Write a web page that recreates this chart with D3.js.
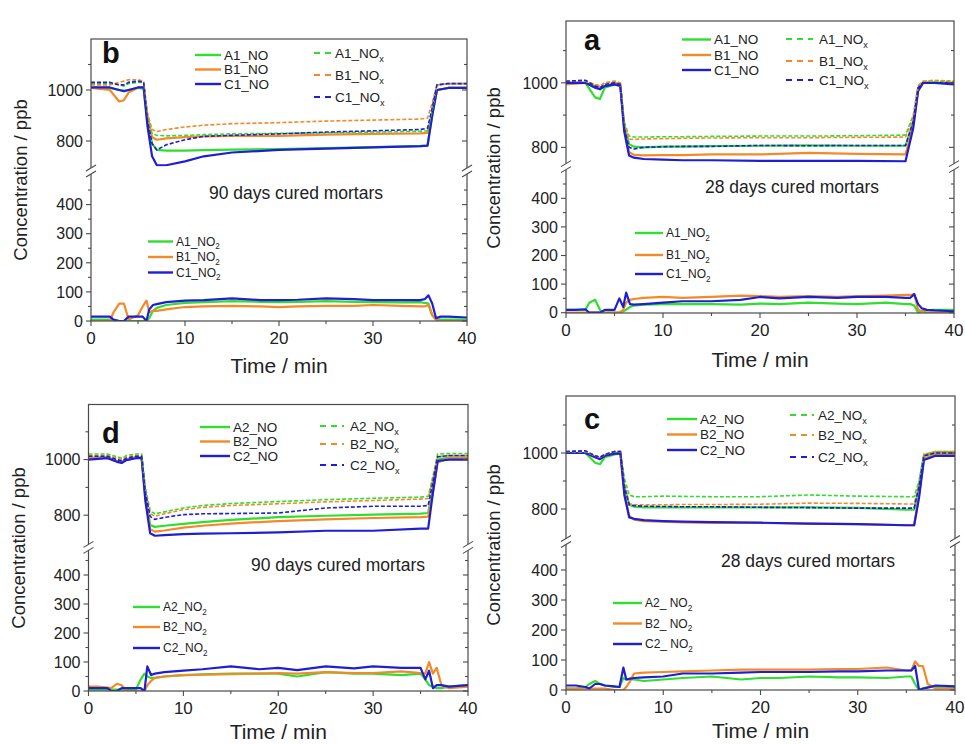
<!DOCTYPE html>
<html>
<head>
<meta charset="utf-8">
<script src="https://cdn.jsdelivr.net/npm/d3@7"></script>
<style>
  body { margin: 0; background: #fff; }
  svg { display: block; }
</style>
</head>
<body>
<svg id="chart" width="965" height="744"></svg>
<script>
// time grids (min)
const tUp = [0, 2, 3, 3.5, 4, 5, 5.6, 6, 6.5, 7, 8, 10, 12, 15, 20, 25, 30, 35, 35.8, 36.3, 36.8, 38, 40];
const tLow = [0, 1, 2, 2.4, 3, 3.5, 4, 5, 5.5, 5.9, 6.2, 6.6, 7, 8, 10, 12, 15, 18, 20, 22, 25, 28, 30, 33, 35, 35.5, 35.9, 36.3, 36.7, 37.2, 38, 40];

const names1 = ['A1', 'B1', 'C1'];
const names2 = ['A2', 'B2', 'C2'];
const xTicks = [0, 10, 20, 30, 40];
const upperTicks = [800, 1000];
const lowerTicks = [0, 100, 200, 300, 400];

// panel b - 90 days, mortars 1
const bNO = [
  [1008,1008,1000,998,1000, 1008,1005,880,790,765, 762,762,764,766,768, 772,776,780,782,900, 1000,1008,1008],
  [1008,1000,955,960,990, 1010,1010,900,815,805, 810,815,818,820,820, 825,828,830,832,910, 1000,1008,1008],
  [1010,1010,1000,995,1000, 1010,1010,860,740,705, 705,720,740,755,765, 770,775,780,782,900, 1000,1008,1008]
];
const bNOx = [
  [1025,1025,1020,1015,1025, 1030,1030,900,830,822, 820,822,825,828,830, 832,835,838,840,920, 1020,1025,1025],
  [1020,1020,1030,1035,1040, 1040,1035,910,845,837, 845,855,862,868,872, 878,882,886,890,950, 1020,1025,1025],
  [1030,1030,1020,1020,1030, 1035,1030,880,790,765, 785,805,818,822,828, 835,840,845,850,930, 1020,1025,1025]
];
const bNO2 = [
  [5,5,5,2,0, 0,0,0,0,0, 10,35,45,55,62, 65,68,66,65,66, 68,66,65,64,65, 62,60,20,5,5, 5,5],
  [0,0,0,30,60, 60,5,20,50,70, 30,35,35,40,48, 50,52,50,48,50, 52,52,55,52,50, 50,55,20,5,0, 0,0],
  [15,15,15,5,0, 0,15,15,15,0, 40,55,58,65,70, 72,78,72,72,73, 78,75,72,72,72, 75,88,60,10,15, 15,12]
];

// panel a - 28 days, mortars 1
const aNO = [
  [1000,1000,955,950,985, 995,990,870,810,802, 800,802,802,804,805, 806,805,805,880,980, 1000,1000,1000],
  [995,1000,990,985,990, 1000,995,860,785,777, 775,776,776,778,778, 783,780,778,870,975, 1000,1000,1000],
  [1000,1000,985,980,990, 995,990,850,775,768, 764,762,760,760,758, 758,758,757,860,975, 1000,1000,995]
];
const aNOx = [
  [1005,1005,995,990,1000, 1005,1000,880,835,832, 832,833,833,834,835, 835,836,838,900,990, 1005,1005,1005],
  [1005,1005,995,990,1000, 1005,1000,875,825,825, 826,827,828,829,830, 830,831,832,895,990, 1005,1008,1005],
  [1005,1008,990,985,995, 1000,995,860,800,795, 800,802,803,803,806, 805,806,806,880,985, 1000,1000,1000]
];
const aNO2 = [
  [10,10,10,35,45, 10,0,0,0,5, 10,20,25,28,30, 30,30,28,32,30, 35,32,30,35,30, 30,25,0,5,8, 10,10],
  [0,0,0,0,0, 0,0,0,0,10, 35,45,48,52,55, 52,55,60,58,55, 58,55,58,60,62, 62,65,10,5,0, 0,0],
  [10,10,12,0,0, 0,10,10,50,20, 70,30,28,30,35, 40,40,45,55,50, 55,52,55,55,52, 52,65,30,15,10, 8,5]
];

// panel d - 90 days, mortars 2
const dNO = [
  [1005,1008,995,992,1000, 1008,1008,870,765,758, 762,769,775,783,793, 798,802,806,808,900, 1000,1008,1008],
  [1005,1008,995,990,1000, 1008,1008,860,750,741, 745,755,762,770,779, 785,790,793,795,880, 990,1005,1005],
  [1000,1005,992,988,998, 1005,1005,850,735,726, 728,732,734,735,738, 744,744,752,752,880, 995,1000,1000]
];
const dNOx = [
  [1020,1020,1010,1005,1015, 1020,1020,900,815,805, 812,826,835,842,849, 856,861,865,868,940, 1020,1022,1022],
  [1015,1015,1005,1000,1010, 1015,1015,890,805,796, 805,820,828,835,841, 848,853,858,860,930, 1010,1015,1015],
  [1012,1012,1000,995,1005, 1012,1012,880,795,785, 792,802,805,806,808, 826,832,832,835,920, 1010,1015,1015]
];
const dNO2 = [
  [5,5,5,5,5, 5,5,5,40,60, 50,45,45,50,55, 57,60,60,60,50, 65,60,60,55,60, 40,20,15,10,10, 15,20],
  [15,15,12,10,25, 20,0,0,0,0, 20,35,45,50,55, 56,58,60,62,60, 65,62,62,68,62, 60,100,60,80,20, 10,15],
  [10,10,10,0,0, 10,10,10,10,0, 85,55,60,65,70, 75,85,75,80,72, 85,78,85,80,80, 40,70,10,20,20, 15,20]
];

// panel c - 28 days, mortars 2
const cNO = [
  [1000,1000,965,960,985, 995,998,880,815,808, 806,806,806,806,806, 806,804,798,798,880, 990,1000,1000],
  [1000,1000,985,980,990, 1000,1000,860,775,762, 757,755,752,750,750, 748,746,742,742,850, 980,995,995],
  [1000,1000,985,978,990, 998,998,850,770,765, 760,757,755,753,751, 748,746,742,742,840, 975,990,990]
];
const cNOx = [
  [1005,1005,990,985,995, 1005,1005,910,850,844, 844,846,845,844,844, 850,846,844,844,900, 995,1005,1005],
  [1005,1005,990,985,995, 1005,1005,890,820,815, 815,815,816,816,817, 821,820,818,818,890, 995,1005,1005],
  [1005,1008,990,985,995, 1005,1005,880,815,812, 810,809,808,808,806, 805,803,803,803,880, 990,1000,1000]
];
const cNO2 = [
  [5,5,10,20,30, 20,15,10,10,40, 35,35,35,30,35, 40,45,35,40,40, 45,42,42,40,45, 45,20,0,5,10, 10,8],
  [5,5,5,5,5, 5,5,0,0,0, 10,30,55,58,60, 62,65,68,68,68, 68,70,70,75,65, 65,95,80,80,20, 5,5],
  [15,15,10,5,20, 20,15,12,10,75, 35,38,40,42,45, 55,55,58,60,60, 60,62,62,65,65, 65,80,0,5,8, 15,12]
];

const colors = ['#2fde2f', '#f38a2a', '#1f1fd2'];
const font = '"Liberation Sans", Arial, sans-serif';

// layout of the four panels
const panels = [
  { letter: 'b', names: names1, caption: '90 days cured mortars', no: bNO, nox: bNOx, no2: bNO2, sep: '_',
    box: { l: 91, r: 467, t: 39, b: 321 }, up: { d: [700, 1200], r: [166.5, 39] }, lo: { d: [0, 500], r: [321, 175.5] },
    letterPos: [102, 63], capPos: [296, 199], yLab: [27, 180], xLab: 373,
    legNO: { x1: 195, x2: 221, tx: 224, ys: [55, 69.5, 84] },
    legNOx: { x1: 314, x2: 331, tx: 335, ys: [53, 75, 97] },
    legNO2: { x1: 148, x2: 173, tx: 176, ys: [241.5, 257, 272.5] } },
  { letter: 'a', names: names1, caption: '28 days cured mortars', no: aNO, nox: aNOx, no2: aNO2, sep: '_',
    box: { l: 566, r: 954, t: 21, b: 313 }, up: { d: [750, 1190], r: [163.5, 21.5] }, lo: { d: [0, 500], r: [312.7, 169.7] },
    letterPos: [584, 50], capPos: [792, 193], yLab: [500, 168], xLab: 367,
    legNO: { x1: 682, x2: 711, tx: 714, ys: [39.5, 55, 70] },
    legNOx: { x1: 786, x2: 813, tx: 819, ys: [39, 61, 80] },
    legNO2: { x1: 635, x2: 663, tx: 666, ys: [233, 255, 274] } },
  { letter: 'd', names: names2, caption: '90 days cured mortars', no: dNO, nox: dNOx, no2: dNO2, sep: '_',
    box: { l: 88.5, r: 468, t: 404.5, b: 691 }, up: { d: [700, 1200], r: [543, 404] }, lo: { d: [0, 480], r: [691, 551.8] },
    letterPos: [102, 443], capPos: [338, 571], yLab: [25, 548], xLab: 739,
    legNO: { x1: 200, x2: 230, tx: 233, ys: [427, 441.5, 456] },
    legNOx: { x1: 320, x2: 344, tx: 350, ys: [426, 444, 465] },
    legNO2: { x1: 133, x2: 160, tx: 163, ys: [607, 627, 648] } },
  { letter: 'c', names: names2, caption: '28 days cured mortars', no: cNO, nox: cNOx, no2: cNO2, sep: '_ ',
    box: { l: 566, r: 955, t: 396, b: 690 }, up: { d: [700, 1200], r: [537, 397] }, lo: { d: [0, 480], r: [690, 546] },
    letterPos: [584, 429], capPos: [808, 567], yLab: [500, 545], xLab: 738,
    legNO: { x1: 667, x2: 697, tx: 700, ys: [419, 434.5, 450] },
    legNOx: { x1: 790, x2: 814, tx: 818, ys: [415, 435, 457] },
    legNO2: { x1: 613, x2: 642, tx: 645, ys: [603, 623.5, 644] } }
];

const svg = d3.select('#chart');
svg.append('rect').attr('width', 965).attr('height', 744).attr('fill', '#fff');

function subLabel(g, x, y, fs, main, sub) {
  const t = g.append('text')
    .attr('x', x).attr('y', y + fs * 0.36)
    .attr('font-family', font).attr('font-size', fs).attr('fill', '#222')
    .text(main);
  t.append('tspan').attr('font-size', fs * 0.68).attr('dy', fs * 0.3).text(sub);
}

function drawPanel(p, idx) {
  const g = svg.append('g');
  const x = d3.scaleLinear().domain([0, 40]).range([p.box.l, p.box.r]);
  const yU = d3.scaleLinear().domain(p.up.d).range(p.up.r);
  const yL = d3.scaleLinear().domain(p.lo.d).range(p.lo.r);
  const breakY = (p.up.r[0] + p.lo.r[1]) / 2;

  const defs = g.append('defs');
  defs.append('clipPath').attr('id', 'cu' + idx).append('rect')
    .attr('x', p.box.l).attr('y', p.box.t).attr('width', p.box.r - p.box.l).attr('height', p.up.r[0] - p.box.t);
  defs.append('clipPath').attr('id', 'cl' + idx).append('rect')
    .attr('x', p.box.l).attr('y', p.lo.r[1]).attr('width', p.box.r - p.box.l).attr('height', p.box.b - p.lo.r[1]);

  const lineU = d3.line().x((d, i) => x(tUp[i])).y(d => yU(d));
  const lineL = d3.line().x((d, i) => x(tLow[i])).y(d => yL(d));

  const gu = g.append('g').attr('clip-path', `url(#cu${idx})`);
  p.no.forEach((s, i) => {
    gu.append('path').attr('d', lineU(s)).attr('fill', 'none')
      .attr('stroke', colors[i]).attr('stroke-width', 2.2).attr('stroke-linejoin', 'round');
  });
  p.nox.forEach((s, i) => {
    gu.append('path').attr('d', lineU(s)).attr('fill', 'none')
      .attr('stroke', colors[i]).attr('stroke-width', 1.6).attr('stroke-dasharray', '4,2');
  });
  const gl = g.append('g').attr('clip-path', `url(#cl${idx})`);
  p.no2.forEach((s, i) => {
    gl.append('path').attr('d', lineL(s)).attr('fill', 'none')
      .attr('stroke', colors[i]).attr('stroke-width', 2.2).attr('stroke-linejoin', 'round');
  });

  // frame
  const ax = '#4a4a4a';
  g.append('rect').attr('x', p.box.l).attr('y', p.box.t)
    .attr('width', p.box.r - p.box.l).attr('height', p.box.b - p.box.t)
    .attr('fill', 'none').attr('stroke', ax).attr('stroke-width', 1.2);

  // ticks on left (outward) and right (inward)
  const yTick = (yv, len) => {
    g.append('line').attr('x1', p.box.l - len).attr('x2', p.box.l).attr('y1', yv).attr('y2', yv).attr('stroke', ax).attr('stroke-width', 1.1);
    g.append('line').attr('x1', p.box.r - len).attr('x2', p.box.r).attr('y1', yv).attr('y2', yv).attr('stroke', ax).attr('stroke-width', 1.1);
  };
  upperTicks.forEach(v => yTick(yU(v), 5));
  [900, 1100].forEach(v => yTick(yU(v), 3));
  lowerTicks.forEach(v => yTick(yL(v), 5));
  [50, 150, 250, 350, 450].forEach(v => yTick(yL(v), 3));

  const tickFs = 16;
  upperTicks.forEach(v => {
    g.append('text').attr('x', p.box.l - 8).attr('y', yU(v) + tickFs * 0.36)
      .attr('text-anchor', 'end').attr('font-family', font).attr('font-size', tickFs).attr('fill', '#222').text(v);
  });
  lowerTicks.forEach(v => {
    g.append('text').attr('x', p.box.l - 8).attr('y', yL(v) + tickFs * 0.36)
      .attr('text-anchor', 'end').attr('font-family', font).attr('font-size', tickFs).attr('fill', '#222').text(v);
  });

  // x axis ticks
  xTicks.forEach(v => {
    g.append('line').attr('x1', x(v)).attr('x2', x(v)).attr('y1', p.box.b).attr('y2', p.box.b + 5).attr('stroke', ax).attr('stroke-width', 1.1);
    g.append('text').attr('x', x(v)).attr('y', p.box.b + 23)
      .attr('text-anchor', 'middle').attr('font-family', font).attr('font-size', tickFs + 1).attr('fill', '#222').text(v);
  });
  [5, 15, 25, 35].forEach(v => {
    g.append('line').attr('x1', x(v)).attr('x2', x(v)).attr('y1', p.box.b).attr('y2', p.box.b + 3).attr('stroke', ax).attr('stroke-width', 1.1);
  });

  // axis breaks
  [p.box.l, p.box.r].forEach(bx => {
    g.append('rect').attr('x', bx - 2).attr('y', breakY - 3).attr('width', 4).attr('height', 6).attr('fill', '#fff');
    [-3, 3].forEach(dy => {
      g.append('line').attr('x1', bx - 5).attr('y1', breakY + dy + 3).attr('x2', bx + 5).attr('y2', breakY + dy - 3)
        .attr('stroke', ax).attr('stroke-width', 1.1);
    });
  });

  // labels
  g.append('text').attr('x', p.letterPos[0]).attr('y', p.letterPos[1])
    .attr('font-family', font).attr('font-weight', 'bold').attr('font-size', 29).attr('fill', '#111').text(p.letter);
  g.append('text').attr('x', p.capPos[0]).attr('y', p.capPos[1]).attr('text-anchor', 'middle')
    .attr('font-family', font).attr('font-size', 17.5).attr('fill', '#222').text(p.caption);
  g.append('text').attr('transform', `translate(${p.yLab[0]},${p.yLab[1]}) rotate(-90)`).attr('text-anchor', 'middle')
    .attr('font-family', font).attr('font-size', 18.5).attr('fill', '#222').text('Concentration / ppb');
  g.append('text').attr('x', (p.box.l + p.box.r) / 2).attr('y', p.xLab).attr('text-anchor', 'middle')
    .attr('font-family', font).attr('font-size', 21).attr('fill', '#222').text('Time / min');

  // legends
  p.names.forEach((n, i) => {
    const L = p.legNO;
    g.append('line').attr('x1', L.x1).attr('x2', L.x2).attr('y1', L.ys[i]).attr('y2', L.ys[i])
      .attr('stroke', colors[i]).attr('stroke-width', 2.4);
    g.append('text').attr('x', L.tx).attr('y', L.ys[i] + 13.5 * 0.36)
      .attr('font-family', font).attr('font-size', 13.5).attr('fill', '#222').text(n + '_NO');

    const X = p.legNOx;
    g.append('line').attr('x1', X.x1).attr('x2', X.x2).attr('y1', X.ys[i]).attr('y2', X.ys[i])
      .attr('stroke', colors[i]).attr('stroke-width', 2).attr('stroke-dasharray', '6,5');
    subLabel(g, X.tx, X.ys[i], 13.5, n + '_NO', 'x');

    const Z = p.legNO2;
    g.append('line').attr('x1', Z.x1).attr('x2', Z.x2).attr('y1', Z.ys[i]).attr('y2', Z.ys[i])
      .attr('stroke', colors[i]).attr('stroke-width', 2.4);
    subLabel(g, Z.tx, Z.ys[i], 12, n + p.sep + 'NO', '2');
  });
}

panels.forEach(drawPanel);
</script>
</body>
</html>
